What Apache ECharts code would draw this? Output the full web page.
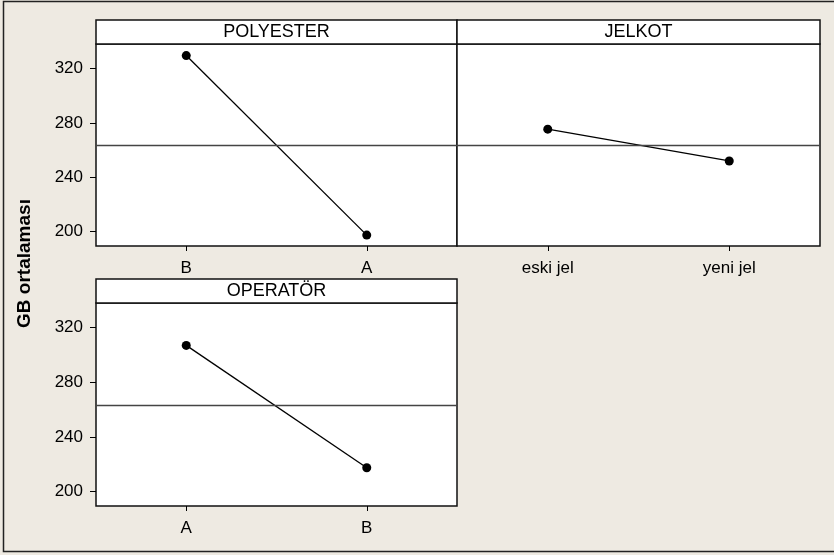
<!DOCTYPE html>
<html>
<head>
<meta charset="utf-8">
<script src="https://cdn.jsdelivr.net/npm/echarts@6/dist/echarts.min.js"></script>
<style>
  html, body { margin: 0; padding: 0; background: #eeeae2; }
  #chart { width: 834px; height: 555px; }
</style>
</head>
<body>
<div id="chart"></div>
<script>
// main effects for GB
const panelTitles = ["POLYESTER", "JELKOT", "OPERATÖR"];
const polyesterLevels = ["B", "A"];
const polyesterMeans = [329.5, 197.5];
const jelkotLevels = ["eski jel", "yeni jel"];
const jelkotMeans = [275.4, 252];
const operatorLevels = ["A", "B"];
const operatorMeans = [307, 217.5];
const yTicks = [200, 240, 280, 320];
const grandMean = 263.5;
const yTitle = "GB ortalaması";

const font = "Liberation Sans, Arial, sans-serif";

const panels = [
  { left: 96, top: 44, width: 361, height: 202, levels: polyesterLevels, means: polyesterMeans },
  { left: 457, top: 44, width: 363, height: 202, levels: jelkotLevels, means: jelkotMeans },
  { left: 96, top: 303, width: 361, height: 203, levels: operatorLevels, means: operatorMeans },
];

const chart = echarts.init(document.getElementById("chart"));

const grids = panels.map((p) => ({
  left: p.left,
  top: p.top,
  width: p.width,
  height: p.height,
  show: true,
  backgroundColor: "#fff",
  borderColor: "#111",
  borderWidth: 1.5,
}));

const xAxes = panels.map((p, i) => ({
  type: "category",
  gridIndex: i,
  data: p.levels,
  boundaryGap: true,
  axisLine: { show: false },
  axisTick: { show: true, alignWithLabel: true, length: 5, lineStyle: { color: "#000", width: 1 } },
  axisLabel: { margin: 14, fontSize: 17, color: "#000", fontFamily: font },
  splitLine: { show: false },
}));

const yAxes = panels.map((p, i) => ({
  type: "value",
  gridIndex: i,
  min: 189.5,
  max: 338,
  axisLine: { show: false },
  axisTick: { show: i !== 1, length: 6, customValues: yTicks, lineStyle: { color: "#000", width: 1 } },
  axisLabel: { show: i !== 1, margin: 13, fontSize: 17, color: "#000", fontFamily: font, customValues: yTicks },
  splitLine: { show: false },
}));

const series = panels.map((p, i) => ({
  type: "line",
  xAxisIndex: i,
  yAxisIndex: i,
  data: p.means,
  symbol: "circle",
  symbolSize: 9,
  itemStyle: { color: "#000" },
  lineStyle: { color: "#000", width: 1.3 },
  silent: true,
  animation: false,
  markLine: {
    silent: true,
    symbol: "none",
    label: { show: false },
    lineStyle: { color: "#444", width: 1.3, type: "solid" },
    data: [{ yAxis: grandMean }],
  },
}));

const graphics = [
  {
    type: "rect",
    shape: { x: 3.5, y: 1.5, width: 840, height: 550 },
    style: { fill: null, stroke: "#222", lineWidth: 1.5 },
    silent: true,
  },
  {
    type: "text",
    x: 25,
    y: 263.5,
    rotation: Math.PI / 2,
    style: {
      text: yTitle,
      font: "bold 19px " + font,
      fill: "#000",
      align: "center",
      verticalAlign: "middle",
    },
    silent: true,
  },
];

panels.forEach((p, i) => {
  graphics.push({
    type: "rect",
    shape: { x: p.left, y: p.top - 24, width: p.width, height: 24 },
    style: { fill: "#fff", stroke: "#111", lineWidth: 1.5 },
    z: 10,
    silent: true,
  });
  graphics.push({
    type: "text",
    x: p.left + p.width / 2,
    y: p.top - 11.5,
    style: {
      text: panelTitles[i],
      font: "18px " + font,
      fill: "#000",
      align: "center",
      verticalAlign: "middle",
    },
    z: 11,
    silent: true,
  });
});

chart.setOption({
  backgroundColor: "#eeeae2",
  animation: false,
  grid: grids,
  xAxis: xAxes,
  yAxis: yAxes,
  series: series,
  graphic: graphics,
});
</script>
</body>
</html>
